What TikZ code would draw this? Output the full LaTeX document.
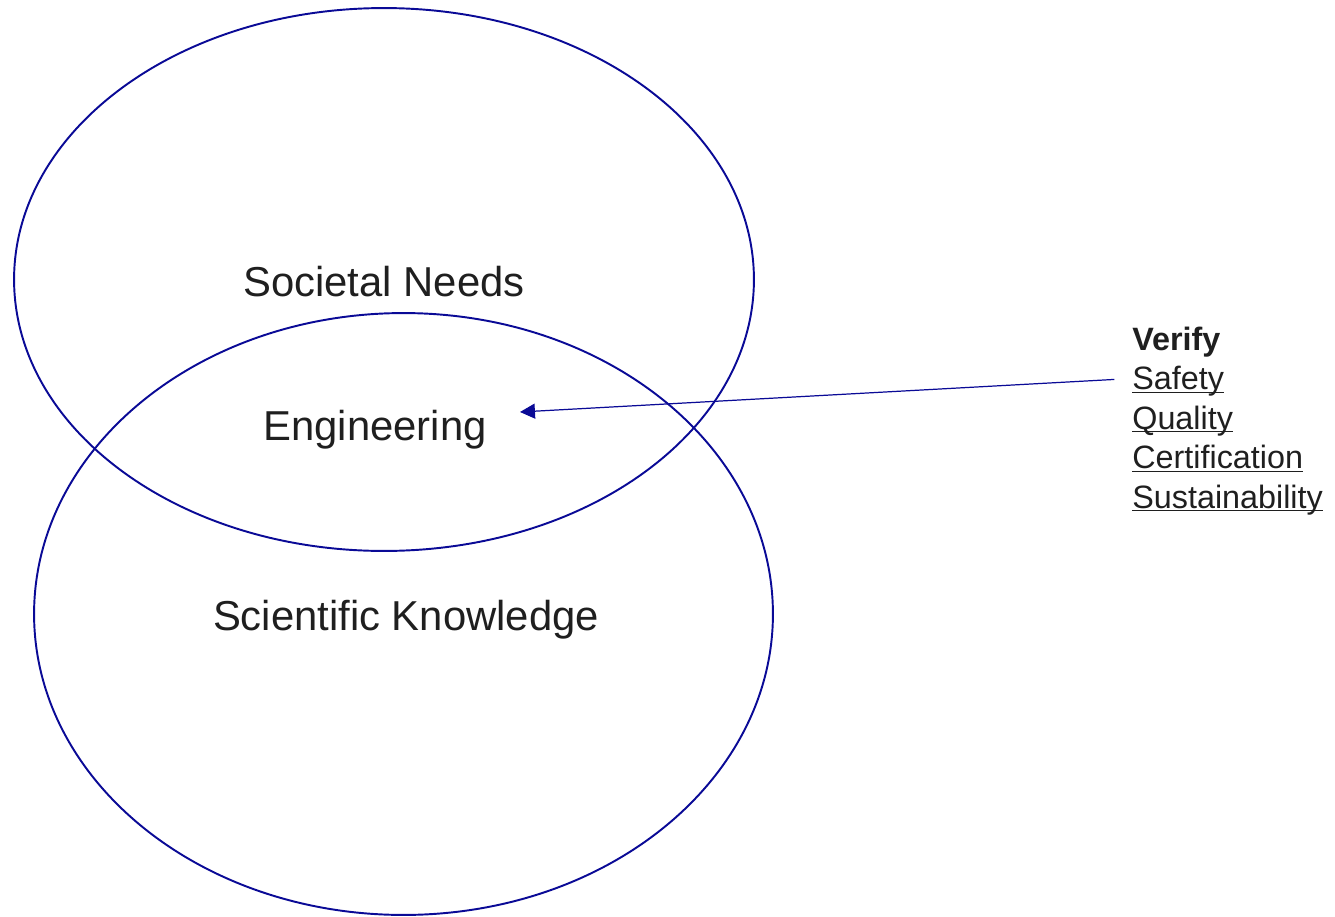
\documentclass[tikz,border=0pt]{standalone}
\usepackage{fontspec}
\setmainfont{Liberation Sans}
\usepackage{xcolor}
\usepackage{tikz}
\usetikzlibrary{arrows.meta,positioning,shapes.geometric}

\definecolor{ovalblue}{HTML}{0A0A96}
\newcommand{\ulword}[1]{\underline{\smash{#1}}}

\begin{document}
\begin{tikzpicture}[x=0.02cm, y=-0.02cm,
    oval/.style={ellipse, draw=ovalblue, line width=1.1pt, inner sep=0pt},
    label/.style={text=black!88, inner sep=0pt, font=\fontsize{23.8}{28}\selectfont},
    item/.style={text=black!88, inner sep=0pt, anchor=north west, text height=14pt, text depth=8.1pt, font=\fontsize{18.4}{22}\selectfont},
    arrow/.style={-{Triangle[length=8.5pt, width=8.5pt]}, draw=ovalblue, line width=0.7pt}
]
    \useasboundingbox (0,0) rectangle (1335,916);

    % The two circles
    \node[oval, minimum width=14.8cm, minimum height=10.86cm] (needs) at (384,279.5) {};
    \node[oval, minimum width=14.78cm, minimum height=12.04cm] (science) at (403.5,614) {};

    % Labels
    \node[label, anchor=base] (needslbl) at (384,296) {Societal Needs};
    \node[label, anchor=base] (eng) at (375,440) {Engineering};
    \node[label, anchor=base] (scilbl) at (406,630) {Scientific Knowledge};

    % Verify list
    \node[item, anchor=base west] (verify) at (1132,350) {\textbf{Verify}};
    \node[item] (safety) at (verify.south west) {\ulword{Safety}};
    \node[item] (quality) at (safety.south west) {\ulword{Quality}};
    \node[item] (cert) at (quality.south west) {\ulword{Certification}};
    \node[item] (sustain) at (cert.south west) {\ulword{Sustainability}};

    % Arrow into the overlap
    \coordinate (tip) at (520,412);
    \draw[arrow] ([xshift=-10pt, yshift=2.8pt]safety.west) -- (tip);
\end{tikzpicture}
\end{document}
